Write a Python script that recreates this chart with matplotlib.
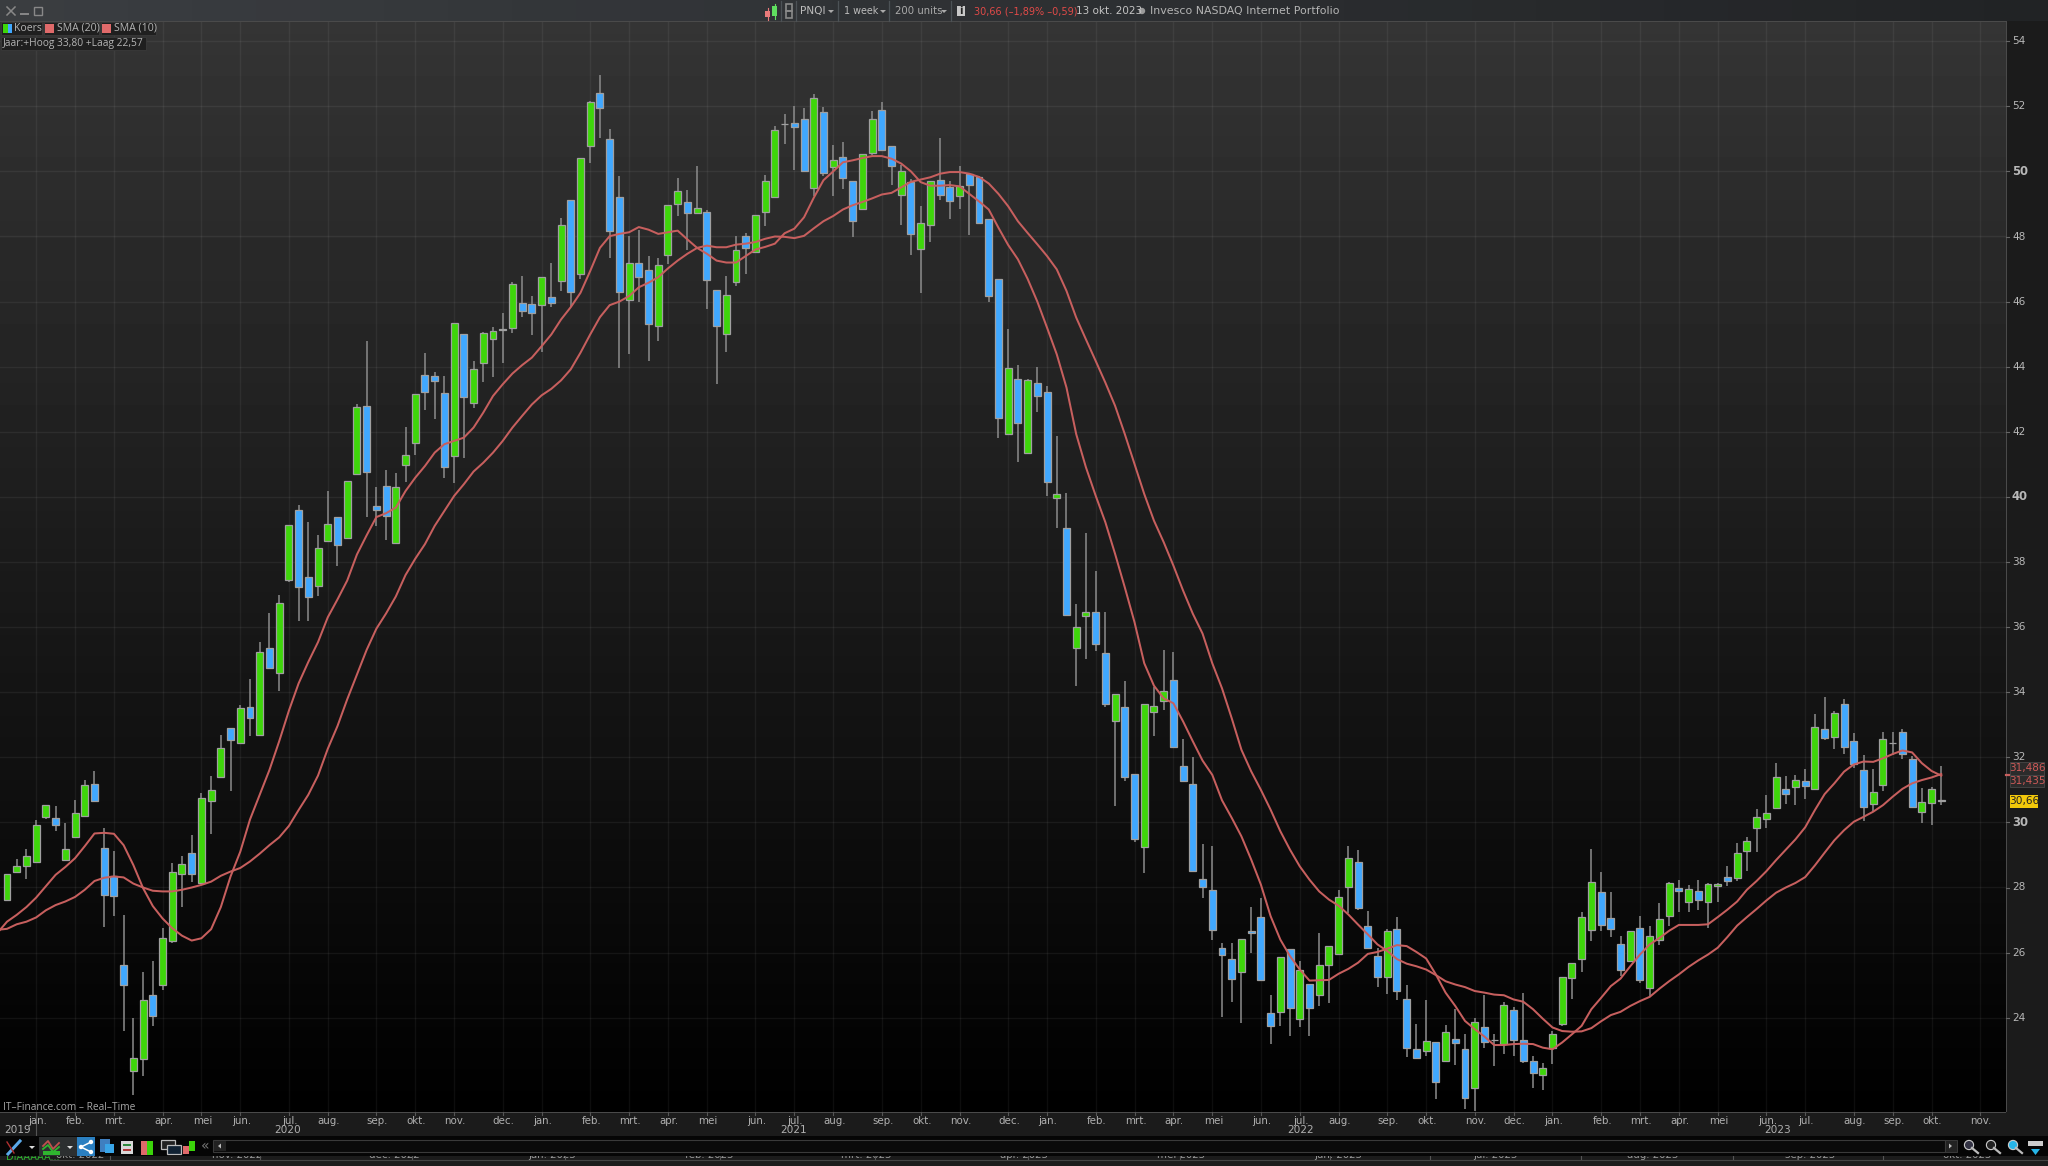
import numpy as np
import matplotlib
matplotlib.use("Agg")
import matplotlib.pyplot as plt
from matplotlib.patches import Rectangle, Circle, Polygon

opens = [27.63,28.48,28.66,28.79,30.17,30.13,28.84,29.54,30.19,31.19,
 29.21,28.34,25.63,22.36,22.72,24.71,25.0,26.35,28.41,29.05,
 28.15,30.65,31.40,32.90,32.45,33.54,32.70,35.37,34.60,37.46,
 39.60,37.53,37.25,38.64,39.37,38.75,40.7,42.8,39.73,40.33,
 38.58,40.98,41.66,43.76,43.71,43.20,41.27,44.99,42.88,44.12,
 44.86,45.15,45.20,45.97,45.94,45.89,46.13,46.64,49.12,46.84,
 50.79,52.42,51.01,49.21,46.05,47.18,46.97,45.25,47.44,49.0,
 49.07,48.71,48.74,46.35,45.0,46.6,48.03,47.51,48.74,49.21,
 51.46,51.5,51.62,49.48,51.82,50.15,50.43,49.7,48.84,50.55,
 51.89,50.79,49.28,49.67,47.61,48.34,49.74,49.53,49.25,49.92,
 49.82,48.54,46.69,41.92,43.62,41.35,43.49,43.23,39.97,39.05,
 35.35,36.34,36.46,35.2,33.11,33.54,31.49,29.24,33.39,33.72,
 34.37,31.73,31.17,28.26,27.93,26.14,25.8,25.41,26.67,27.1,
 24.13,24.18,26.1,23.95,25.03,24.71,25.61,25.97,28.0,28.77,
 26.82,25.9,25.25,26.72,24.57,23.05,22.98,23.26,22.68,23.36,
 23.05,21.83,23.7,23.31,23.18,24.24,23.32,22.68,22.24,23.08,
 23.82,25.21,25.8,26.69,27.87,27.05,26.26,25.74,26.77,24.9,
 26.39,27.12,27.97,27.55,27.9,27.55,28.04,28.31,28.3,29.12,
 29.84,30.09,30.45,31.03,31.08,31.28,31.03,32.88,32.61,33.63,
 32.5,31.61,30.57,31.15,32.44,32.77,31.95,30.33,30.61,30.69]
highs = [28.42,28.88,29.19,30.08,30.54,30.50,29.99,30.68,31.29,31.59,
 29.83,29.12,27.17,24.0,25.41,25.74,26.75,28.75,28.96,29.60,
 30.89,31.44,32.67,32.90,33.62,34.41,35.54,36.44,36.99,39.14,
 39.75,39.23,38.82,40.18,39.37,40.5,42.85,44.8,40.3,40.82,
 40.72,42.15,43.15,44.41,43.85,43.71,45.33,44.99,44.19,45.06,
 45.23,45.64,46.60,46.78,46.17,46.77,47.19,48.57,49.12,50.41,
 52.17,52.97,51.31,49.85,48.01,48.21,47.39,47.35,48.97,49.8,
 49.44,50.16,48.8,46.35,46.8,48.01,48.11,48.67,49.9,51.39,
 51.76,52.0,51.96,52.37,51.99,50.8,50.89,49.7,50.53,51.86,
 52.13,50.79,50.21,49.78,48.93,49.72,51.04,49.7,50.16,49.92,
 49.87,48.54,46.69,45.16,44.06,43.62,44.0,43.41,41.86,40.13,
 36.71,38.89,37.72,36.46,33.94,34.35,31.49,33.65,34.17,35.3,
 35.23,32.56,32.0,29.35,29.27,26.3,26.28,26.41,27.4,27.68,
 24.69,25.88,26.1,25.74,25.03,26.61,26.2,27.91,29.27,29.16,
 27.27,26.15,26.73,27.1,25.01,23.8,24.54,23.26,23.78,24.26,
 23.51,24.0,24.69,23.49,24.49,24.34,24.76,22.83,22.6,23.59,
 25.24,25.69,27.24,29.18,28.47,27.86,26.5,26.66,27.11,26.81,
 27.52,28.18,28.24,28.08,28.24,28.13,28.13,28.66,29.36,29.54,
 30.4,30.83,31.83,31.42,31.45,31.63,33.34,33.84,33.43,33.79,
 32.74,32.08,31.63,32.79,32.79,32.87,32.04,31.06,31.08,31.74]
lows = [27.57,28.44,28.25,28.79,30.09,29.73,28.84,29.54,30.19,30.62,
 26.79,27.12,23.59,21.63,22.21,23.74,24.85,26.31,27.40,28.16,
 28.13,29.64,31.37,30.95,32.45,32.66,32.70,34.74,34.04,37.40,
 36.18,36.20,36.97,38.64,37.88,38.75,40.7,39.38,39.1,38.67,
 38.58,40.47,41.29,42.67,42.40,40.59,40.44,41.21,42.74,43.54,
 43.69,44.12,45.03,45.52,44.97,44.44,45.83,46.32,45.83,46.70,
 50.27,51.03,47.34,43.97,44.4,45.99,44.17,44.79,47.14,48.62,
 47.57,48.71,45.78,43.48,44.46,46.47,46.86,47.51,48.32,49.21,
 50.84,50.05,50.0,49.24,49.85,49.24,49.47,47.99,48.84,50.49,
 50.67,49.57,48.35,47.43,46.25,47.83,49.13,48.55,48.83,48.06,
 48.4,46.0,41.81,41.92,41.06,41.35,42.62,40.02,39.03,36.34,
 34.2,35.01,35.28,33.56,30.49,31.26,29.41,28.45,32.64,33.44,
 32.33,31.26,28.52,27.68,26.38,24.02,24.48,23.85,25.99,25.13,
 23.2,23.76,23.44,23.71,23.44,24.36,24.46,25.97,27.22,27.3,
 26.13,24.94,24.74,24.54,22.79,22.75,22.83,21.49,22.68,22.55,
 21.2,21.13,23.06,22.52,22.88,22.83,22.6,21.85,21.79,22.58,
 23.76,24.57,25.4,26.35,26.67,26.47,25.28,25.74,25.07,24.67,
 26.22,26.81,27.26,27.24,27.32,26.76,27.54,28.06,28.21,28.52,
 29.1,29.82,30.4,30.56,30.54,30.73,31.03,32.54,32.27,32.1,
 31.66,30.05,30.36,30.98,32.08,31.95,30.48,29.99,29.93,30.52]
closes = [28.42,28.65,28.98,29.93,30.54,29.92,29.19,30.28,31.15,30.65,
 27.77,27.75,25.0,22.75,24.53,24.06,26.44,28.49,28.72,28.41,
 30.74,31.0,32.28,32.53,33.50,33.21,35.24,34.75,36.73,39.14,
 37.24,36.93,38.42,39.17,38.51,40.5,42.75,40.75,39.59,39.41,
 40.30,41.30,43.15,43.22,43.55,40.91,45.33,43.07,43.92,45.02,
 45.11,45.14,46.54,45.72,45.66,46.77,45.96,48.34,46.30,50.41,
 52.13,51.95,48.17,46.30,47.2,46.76,45.30,47.13,48.97,49.41,
 48.71,48.87,46.66,45.25,46.2,47.6,47.66,48.67,49.69,51.26,
 51.45,51.37,50.01,52.26,49.94,50.34,49.79,48.49,50.53,51.62,
 50.67,50.18,50.02,48.09,48.41,49.72,49.28,49.09,49.56,49.58,
 48.4,46.17,42.43,43.95,42.28,43.59,43.09,40.46,40.1,36.38,
 36.0,36.46,35.47,33.65,33.94,31.41,29.49,33.65,33.57,34.03,
 32.33,31.28,28.52,28.0,26.69,25.92,25.19,26.41,26.61,25.15,
 23.76,25.88,24.31,25.47,24.31,25.63,26.2,27.7,28.9,27.38,
 26.13,25.26,26.67,24.83,23.08,22.77,23.29,22.03,23.57,23.21,
 21.52,23.88,23.26,23.31,24.39,23.31,22.67,22.31,22.47,23.51,
 25.24,25.69,27.08,28.18,26.84,26.74,25.46,26.66,25.17,26.51,
 27.03,28.15,27.88,27.95,27.63,28.1,28.1,28.21,29.07,29.43,
 30.17,30.28,31.39,30.86,31.31,31.12,32.93,32.59,33.35,32.33,
 31.78,30.48,30.94,32.55,32.44,32.09,30.48,30.62,31.03,30.66]

# SMA series, read from index -1 (just left of the window) to 199
sma10 = [26.6,
 26.95,27.16,27.4,27.69,28.04,28.39,28.63,28.9,29.27,29.66,
 29.68,29.65,29.3,28.69,27.98,27.43,27.05,26.75,26.52,26.37,
 26.44,26.72,27.4,28.34,29.1,30.09,30.85,31.61,32.49,33.43,
 34.27,34.93,35.54,36.3,36.85,37.43,38.23,38.82,39.38,39.5,
 39.67,40.18,40.59,40.95,41.36,41.62,41.72,41.82,42.13,42.59,
 43.1,43.46,43.79,44.05,44.28,44.63,44.99,45.45,45.83,46.27,
 46.94,47.65,48.01,48.08,48.13,48.29,48.21,48.08,48.13,48.18,
 47.91,47.65,47.47,47.26,47.2,47.2,47.4,47.6,47.68,47.78,
 48.1,48.24,48.59,49.19,49.73,50.0,50.28,50.34,50.41,50.47,
 50.47,50.39,50.24,50.0,49.67,49.56,49.56,49.58,49.54,49.31,
 49.08,48.83,48.27,47.74,47.3,46.7,46.0,45.2,44.38,43.36,
 41.93,40.91,40.04,39.22,38.25,37.22,36.15,34.89,34.2,33.81,
 33.66,33.1,32.49,31.9,31.46,30.68,30.14,29.57,28.86,28.09,
 27.12,26.4,25.89,25.48,25.14,25.15,25.16,25.35,25.5,25.69,
 25.96,26.02,26.12,26.23,26.2,26.02,25.82,25.33,24.77,24.36,
 23.9,23.65,23.42,23.16,23.16,23.19,23.2,23.19,23.08,23.03,
 23.24,23.49,23.75,24.26,24.61,24.97,25.2,25.58,25.94,26.25,
 26.45,26.67,26.85,26.85,26.85,26.87,27.09,27.32,27.57,27.93,
 28.2,28.5,28.84,29.16,29.48,29.85,30.38,30.87,31.2,31.56,
 31.78,31.87,31.86,31.97,32.1,32.21,32.15,31.82,31.58,31.435]
sma20 = [26.7,
 26.73,26.87,26.95,27.08,27.3,27.46,27.57,27.71,27.93,28.2,
 28.3,28.34,28.31,28.12,28.0,27.9,27.88,27.88,27.93,28.0,
 28.08,28.18,28.36,28.49,28.6,28.8,29.04,29.3,29.54,29.89,
 30.38,30.85,31.44,32.26,32.96,33.78,34.54,35.3,35.95,36.42,
 36.94,37.6,38.1,38.55,39.11,39.57,40.03,40.39,40.78,41.05,
 41.36,41.72,42.13,42.49,42.84,43.12,43.32,43.58,43.92,44.43,
 44.99,45.52,45.89,46.0,46.17,46.44,46.58,46.75,47.02,47.26,
 47.47,47.65,47.72,47.67,47.67,47.75,47.78,47.83,47.93,48.0,
 47.99,47.95,48.02,48.25,48.47,48.63,48.83,48.96,49.06,49.17,
 49.29,49.34,49.51,49.68,49.75,49.82,49.93,49.98,49.98,49.93,
 49.83,49.63,49.31,48.93,48.47,48.11,47.76,47.4,46.99,46.33,
 45.51,44.84,44.18,43.51,42.8,41.93,41.01,40.09,39.27,38.61,
 37.89,37.12,36.41,35.8,34.89,34.12,33.2,32.23,31.57,31.0,
 30.39,29.73,29.16,28.65,28.24,27.88,27.63,27.44,27.17,26.86,
 26.56,26.25,26.05,25.8,25.66,25.58,25.48,25.31,25.12,25.02,
 24.94,24.82,24.77,24.71,24.69,24.56,24.49,24.26,23.97,23.7,
 23.59,23.57,23.58,23.68,23.89,24.08,24.18,24.36,24.51,24.64,
 24.89,25.12,25.33,25.56,25.76,25.94,26.15,26.48,26.83,27.09,
 27.34,27.6,27.84,28.0,28.14,28.32,28.68,29.07,29.45,29.76,
 30.02,30.17,30.33,30.53,30.79,31.03,31.2,31.3,31.38,31.486]

month_ticks = [3,7,11,16,20,24,29,33,38,42,46,51,55,60,64,68,72,77,81,85,90,94,98,103,
               107,112,116,120,124,129,133,137,142,146,151,155,159,164,168,172,176,181,185,190,194,198,203]
month_labels = ["jan.","feb.","mrt.","apr.","mei","jun.","jul.","aug.","sep.","okt.","nov.","dec.",
                "jan.","feb.","mrt.","apr.","mei","jun.","jul.","aug.","sep.","okt.","nov.","dec.",
                "jan.","feb.","mrt.","apr.","mei","jun.","jul.","aug.","sep.","okt.","nov.","dec.",
                "jan.","feb.","mrt.","apr.","mei","jun.","jul.","aug.","sep.","okt.","nov."]
year_ticks = [0.9,28.7,80.7,132.9,182.0]
year_labels = ["2019","2020","2021","2022","2023"]
price_ticks = list(range(24,56,2))

W, H = 2048, 1166
plt.rcParams['font.family'] = ['DejaVu Sans']
fig = plt.figure(figsize=(W/100, H/100), dpi=100, facecolor='#1b1b1b')

# price axes, pixel box 0..2006 x 21..1112
ax = fig.add_axes([0, 1-1112/H, 2006/W, (1112-21)/H], zorder=1)
step = 9.72
ax.set_xlim(-7/step, (2006-7)/step)
ax.set_ylim(30-(1112-822.4)/32.55, 30+(822.4-21)/32.55)
grad = np.linspace(0.205, 0.0, 256)[:, None]
ax.imshow(grad, cmap='gray', vmin=0, vmax=1, aspect='auto', zorder=0,
          extent=[ax.get_xlim()[0], ax.get_xlim()[1], ax.get_ylim()[0], ax.get_ylim()[1]], origin='upper')
for t in month_ticks:
    ax.axvline(t, color='white', alpha=0.055, lw=1, zorder=1)
for p in price_ticks:
    ax.axhline(p, color='white', alpha=0.06, lw=1, zorder=1)

x = np.arange(len(opens))
o, hi, lo, c = map(np.array, (opens, highs, lows, closes))
ax.vlines(x, lo, hi, color='#8c8c8c', lw=1.1, zorder=2)
top = np.maximum(o, c); bot = np.minimum(o, c)
cols = np.where(c > o, '#3ed60a', '#40a8ff')
ax.bar(x, top-bot, bottom=bot, width=0.72, color=cols, edgecolor='#a0a0a0', lw=0.9, zorder=3)
xs = np.arange(-1, 200)
ax.plot(xs, sma20, color='#c75f5e', lw=1.45, zorder=4, solid_joinstyle='round')
ax.plot(xs, sma10, color='#c75f5e', lw=1.45, zorder=4, solid_joinstyle='round')
ax.tick_params(left=False, right=False, labelleft=False, bottom=False, labelbottom=False)
for s in ax.spines.values():
    s.set_visible(False)

# window furniture in pixel coordinates
ch = fig.add_axes([0, 0, 1, 1], zorder=2)
ch.set_xlim(0, W); ch.set_ylim(H, 0); ch.axis('off'); ch.patch.set_alpha(0)
def rect(x0, y0, x1, y1, fc, ec='none', lw=0, z=1):
    ch.add_patch(Rectangle((x0, y0), x1-x0, y1-y0, fc=fc, ec=ec, lw=lw, zorder=z))
def txt(x, y, s, color='#b4b4b4', size=7.8, ha='left', va='center', z=6, **kw):
    return ch.text(x, y, s, color=color, fontsize=size, ha=ha, va=va, zorder=z, **kw)
NARROW = 'Open Sans'

# title bar
ch.imshow(np.linspace(0.24, 0.14, 32)[:, None]*np.array([[[0.95, 1.0, 1.06]]]), aspect='auto',
          extent=[0, W, 21, 0], zorder=1)
ch.set_xlim(0, W); ch.set_ylim(H, 0)
rect(0, 21, W, 22, '#4a4a4a', z=2)
ch.plot([7, 15], [7, 15], color='#888', lw=1.1, zorder=3); ch.plot([7, 15], [15, 7], color='#888', lw=1.1, zorder=3)
ch.plot([21, 28], [14, 14], color='#888', lw=1.4, zorder=3)
ch.add_patch(Rectangle((34, 7), 8, 7.5, fc='none', ec='#888', lw=1, zorder=3))
for sx in (781, 796, 838, 889, 951):
    ch.plot([sx, sx], [1, 21], color='#4c5256', lw=0.9, zorder=3)
rect(765, 11, 770, 17, '#e87a7a', z=3); rect(772, 6, 777, 16, '#5fe05f', z=3)
ch.plot([774.5, 774.5], [4, 19], color='#5fe05f', lw=0.8, zorder=3)
ch.plot([767.5, 767.5], [8, 20], color='#e87a7a', lw=0.8, zorder=3)
ch.add_patch(Rectangle((786, 4), 6, 7, fc='none', ec='#8a8a8a', lw=1.2, zorder=3))
ch.add_patch(Rectangle((786, 11), 6, 7, fc='none', ec='#8a8a8a', lw=1.2, zorder=3))
txt(800, 11, "PNQI", color='#bcbcbc', size=7.6)
txt(844, 11, "1 week", color='#bcbcbc', size=6.9)
txt(895, 11, "200 units", color='#aaaaaa', size=7.3)
for ax0 in (831, 883, 944):
    ch.add_patch(Polygon([[ax0-3, 10], [ax0+3, 10], [ax0, 13]], fc='#aaaaaa', zorder=3))
rect(957, 6, 965, 16, '#c8c8c8', z=3)
txt(961, 11, "i", color='#222', size=7, ha='center', weight='bold', z=7)
txt(974, 11, "30,66 (\u20131,89% \u20130,59)", color='#e04a48', size=7.0)
txt(1076, 11, "13 okt. 2023", color='#c4c4c4', size=7.5)
ch.add_patch(Circle((1142, 11), 3.2, fc='#9a9a9a', zorder=3))
txt(1150, 11, "Invesco NASDAQ Internet Portfolio", color='#b4b4b4', size=7.9)

# legend chips
for x0, x1, y0, y1 in ((1, 42, 22, 35), (44, 99, 22, 35), (101, 156, 22, 35), (1, 146, 37, 50)):
    rect(x0, y0, x1, y1, '#1f1f1f', ec='#3a3a3a', lw=0.6, z=5)
rect(3, 24, 7.5, 33, '#3ed60a', z=6); rect(7.5, 24, 12, 33, '#40a8ff', z=6)
rect(45, 24, 54, 33, '#e06a6a', z=6); rect(102, 24, 111, 33, '#e06a6a', z=6)
txt(14, 28.5, "Koers", size=7.6, family=NARROW)
txt(57, 28.5, "SMA (20)", size=7.6, family=NARROW)
txt(114, 28.5, "SMA (10)", size=7.6, family=NARROW)
txt(3, 43.5, "Jaar:+Hoog 33,80 +Laag 22,57", size=7.4, family=NARROW)
txt(3, 1107, "IT\u2013Finance.com \u2013 Real\u2013Time", color='#a8a8a8', size=7.3, family=NARROW)

# right price scale
rect(2006, 21, W, 1136, '#1b1b1b', z=2)
rect(2005.5, 21, 2006.5, 1112, '#4a4a4a', z=3)
for p in price_ticks:
    y = 822.4 + (30-p)*32.55
    ch.plot([2006, 2009], [y, y], color='#666', lw=0.8, zorder=3)
    txt(2012, y, str(p), color='#b8b8b8', size=8.4 if p % 10 == 0 else 7.6,
        ha='left', weight='bold' if p % 10 == 0 else 'normal')
for y0, s in ((762, "31,486"), (774.5, "31,435")):
    rect(2010, y0, 2044, y0+12.5, '#2b2b2b', ec='#484848', lw=0.6, z=5)
    txt(2027, y0+6.2, s, color='#cf5a58', size=7.5, ha='center')
rect(2010, 795, 2038, 807.5, '#f2c80a', z=5)
txt(2024, 801.2, "30,66", color='#222', size=7.6, ha='center')
ch.plot([2006, 2010], [775, 775], color='#c75f5e', lw=1.6, zorder=4)

# time scale
rect(0, 1112, W, 1136, '#1b1b1b', z=2)
rect(0, 1111.5, 2006, 1112.5, '#4a4a4a', z=3)
for t, s in zip(month_ticks, month_labels):
    px = 7 + step*t
    ch.plot([px, px], [1112, 1115], color='#555', lw=0.8, zorder=3)
    txt(px+1, 1121, s, ha='center', color='#b0b0b0', size=7.4)
for t, s in zip(year_ticks, year_labels):
    txt(7+step*t+2, 1130, s, ha='center', color='#b0b0b0', size=7.6)
ch.plot([36, 36], [1112, 1136], color='#555', lw=0.8, zorder=3)

# lower period strip (mostly cut off)
rect(0, 1136, W, H, '#1b1b1b', z=2)
bottom = ["okt. 2022","nov. 2022","dec. 2022","jan. 2023","feb. 2023","mrt. 2023","apr. 2023",
          "mei 2023","jun. 2023","jul. 2023","aug. 2023","sep. 2023","okt. 2023"]
for i, s in enumerate(bottom):
    txt(80 + i*157.3, 1155, s, ha='center', color='#999', size=7.4, z=3)
for sx in (110, 260, 412, 565, 720, 875, 1028, 1180, 1330, 1430, 1581, 1733, 1883):
    ch.plot([sx, sx], [1156, 1160], color='#555', lw=0.8, zorder=3)
rect(0, 1160, W, H, '#1c1c1c', z=4)
ch.plot([0, W], [1160, 1160], color='#444', lw=0.8, zorder=5)
txt(6, 1157.5, "DIAAAAA...", color='#2fb52f', size=7, z=3)
rect(0, 1160, 50, H, '#141414', z=5)

# toolbar
rect(0, 1136, W, 1156, '#050505', z=4)
rect(39, 1137, 77, 1156, '#2c2f30', z=5)
rect(77, 1137, 95, 1156, '#2a7fc0', z=5)
ch.plot([8, 20], [1154, 1141], color='#5aa9ea', lw=2.2, zorder=6)
ch.plot([7, 14], [1142, 1153], color='#b03030', lw=1, zorder=6)
ch.add_patch(Polygon([[29, 1146], [35, 1146], [32, 1149]], fc='#ddd', zorder=6))
ch.add_patch(Polygon([[67, 1146], [73, 1146], [70, 1149]], fc='#ddd', zorder=6))
ch.plot([43, 48, 53, 59], [1146, 1141, 1149, 1143], color='#c0504d', lw=1.3, zorder=6)
ch.plot([43, 48, 53, 59], [1149, 1145, 1152, 1147], color='#2fb52f', lw=1.3, zorder=6)
rect(43, 1151, 60, 1155, '#2fb52f', z=6)
ch.plot([81, 91], [1147, 1142], color='white', lw=1.1, zorder=6)
ch.plot([81, 91], [1147, 1152], color='white', lw=1.1, zorder=6)
for py in (1142, 1147, 1152):
    ch.add_patch(Circle((91 if py != 1147 else 81, py), 2.2, fc='white', zorder=7))
rect(100, 1139, 110, 1152, '#3f7fc0', z=6); rect(105, 1144, 114, 1153, '#39a5e8', z=7)
rect(121, 1141, 133, 1154, '#d8d8d8', z=6); rect(123, 1144, 131, 1146, '#2c8a3c', z=7); rect(123, 1149, 131, 1151, '#b03a3a', z=7)
rect(141, 1141, 147, 1155, '#e06a6a', z=6); rect(147, 1141, 153, 1155, '#3bd40a', z=6)
ch.add_patch(Rectangle((161, 1140), 14, 9, fc='#222', ec='#bbb', lw=0.9, zorder=6))
ch.add_patch(Rectangle((167, 1145), 14, 9, fc='#123', ec='#bbb', lw=0.9, zorder=7))
rect(183, 1146, 189, 1154, '#e06a6a', z=6); rect(189, 1141, 195, 1151, '#3bd40a', z=6)
txt(205, 1146, "\u00ab", color='#777', ha='center', size=10)
rect(213, 1140, 1945, 1152, '#0a0a0a', ec='#3a3a3a', lw=0.8, z=5)
rect(214, 1141, 226, 1151, '#222', z=6); rect(1945, 1140, 1957, 1152, '#222', ec='#3a3a3a', lw=0.7, z=5)
ch.add_patch(Polygon([[218, 1146], [221, 1143.5], [221, 1148.5]], fc='#bbb', zorder=7))
ch.add_patch(Polygon([[1952, 1146], [1949, 1143.5], [1949, 1148.5]], fc='#bbb', zorder=7))
for cx, col in ((1969, '#334'), (1991, '#222'), (2013, '#26b5e8')):
    ch.add_patch(Circle((cx, 1145), 4.6, fc=col, ec='#ccc', lw=0.8, zorder=6))
    ch.plot([cx+3, cx+9], [1148, 1153], color='#bbb', lw=1.6, zorder=6)
rect(2028, 1141, 2043, 1146, '#ccc', z=6)
ch.add_patch(Polygon([[2031, 1149], [2040, 1149], [2035.5, 1155]], fc='#26b5e8', zorder=6))

fig.savefig('out.png', dpi=100, facecolor=fig.get_facecolor())
